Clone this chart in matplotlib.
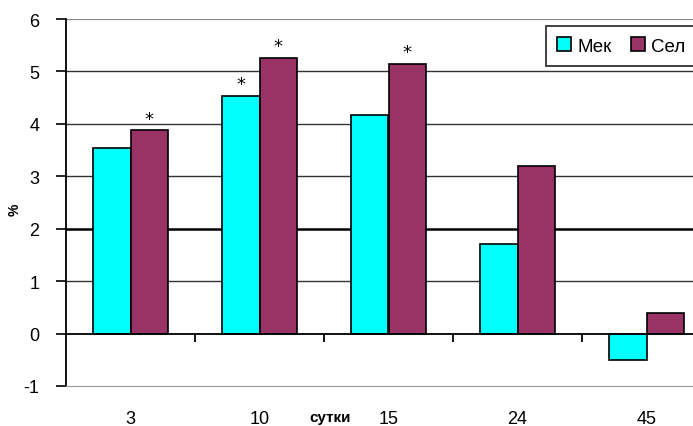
import matplotlib
matplotlib.use('Agg')
import matplotlib.pyplot as plt
import numpy as np

# ── data ──────────────────────────────────────────────────────────────────────
days = ['3', '10', '15', '24', '45']
mek = [3.54, 4.53, 4.17, 1.71, -0.51]
sel = [3.88, 5.26, 5.14, 3.20, 0.39]
star_mek = [False, True, False, False, False]
star_sel = [True, True, True, False, False]

C_MEK = '#00FFFF'
C_SEL = '#993366'

fig = plt.figure(figsize=(6.93, 4.27), dpi=100)
fig.patch.set_facecolor('white')
# plot area runs past the right edge of the picture, as in the reference
ax = fig.add_axes([66 / 693, 1 - 387 / 427, (711 - 66) / 693, (387 - 20) / 427])

x = np.arange(len(days))
w = 0.287
ax.bar(x - w / 2, mek, w, color=C_MEK, edgecolor='black', linewidth=1.2, zorder=3, label='Мек')
ax.bar(x + w / 2, sel, w, color=C_SEL, edgecolor='black', linewidth=1.2, zorder=3, label='Сел')

for i in range(len(days)):
    if star_mek[i]:
        ax.text(x[i] - w / 2, mek[i] + 0.05, '*', ha='center', va='bottom', fontsize=13, zorder=4)
    if star_sel[i]:
        ax.text(x[i] + w / 2, sel[i] + 0.05, '*', ha='center', va='bottom', fontsize=13, zorder=4)

ax.set_xlim(-0.5, len(days) - 0.5)
ax.set_ylim(-1, 6)

# gridlines
for yv in [1, 3, 4, 5]:
    ax.axhline(yv, color='#333333', lw=1.0, zorder=1)
ax.axhline(2, color='black', lw=1.8, zorder=1)
ax.axhline(6, color='#888888', lw=1.6, zorder=1)
ax.axhline(0, color='black', lw=1.3, zorder=4)

# category boundary ticks on the zero line
ax.vlines(x[:-1] + 0.5, -0.17, 0, color='black', lw=1.3, zorder=4)

for s in ['top', 'right']:
    ax.spines[s].set_visible(False)
ax.spines['bottom'].set_color('#999999')
ax.spines['left'].set_linewidth(1.3)

ax.set_yticks(range(-1, 7))
ax.set_yticklabels([str(v) for v in range(-1, 7)], fontsize=13, family='Liberation Sans')
ax.tick_params(axis='y', length=7, width=1.2, pad=12)

ax.set_xticks(x)
ax.set_xticklabels(days, fontsize=13, family='Liberation Sans')
ax.tick_params(axis='x', length=0, pad=17)

ax.text(330 / 693, 1 - 418 / 427, 'сутки', transform=fig.transFigure, ha='center', va='center',
        fontsize=11, fontweight='bold', family='Liberation Sans')
fig.text(15 / 693, 1 - 210 / 427, '%', rotation=90, ha='center', va='center',
         fontsize=10, fontweight='bold', family='Liberation Sans')

leg = ax.legend(loc='upper left', bbox_to_anchor=((546 - 66) / 645, 1 - 7 / 367), ncol=2,
                frameon=True, fancybox=False, edgecolor='black',
                handlelength=0.75, handleheight=0.75, handletextpad=0.35, columnspacing=1.0,
                borderpad=0.6, borderaxespad=0,
                prop={'family': 'Liberation Sans', 'size': 13.5})
leg.get_frame().set_linewidth(1.3)

fig.savefig('out.png', dpi=100, facecolor='white')
